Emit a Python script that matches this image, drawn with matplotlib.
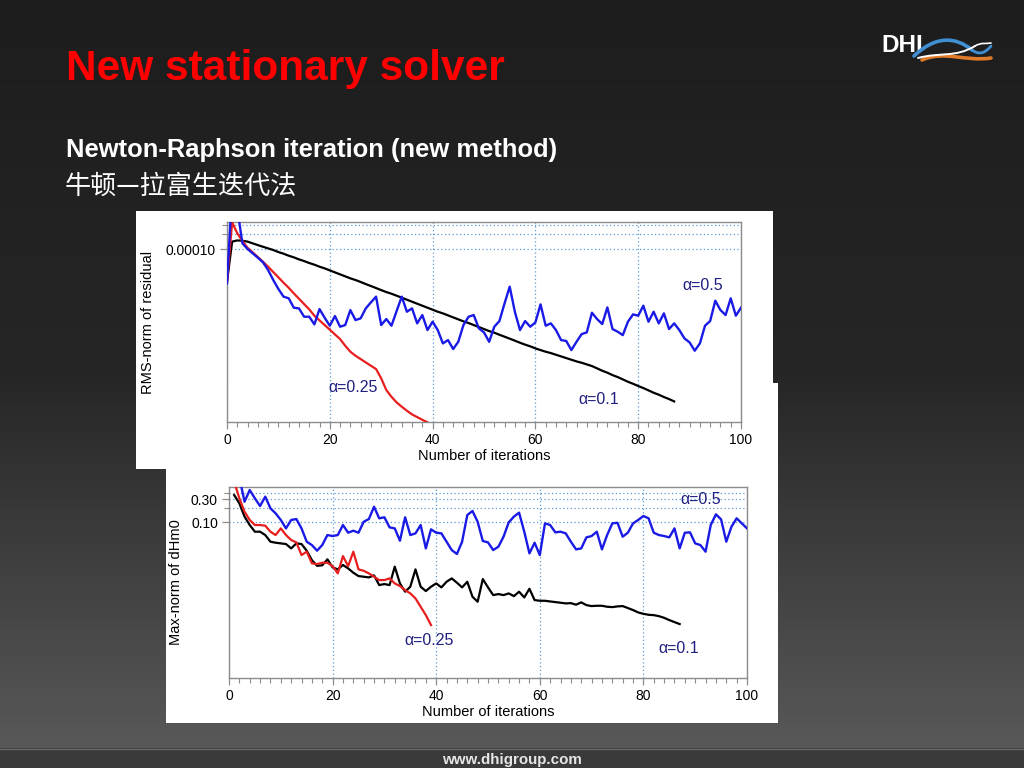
import numpy as np
import matplotlib
matplotlib.use("Agg")
import matplotlib.pyplot as plt
from matplotlib.patches import Rectangle, PathPatch
from matplotlib.path import Path
from matplotlib.colors import LinearSegmentedColormap
from matplotlib.ticker import FixedLocator, FixedFormatter, NullFormatter

# ---------------- data ----------------
title_text = "New stationary solver"
subtitle_text = "Newton-Raphson iteration (new method)"
subtitle_cn = "牛顿—拉富生迭代法"
footer_text = "www.dhigroup.com"

x_ticks = [0, 20, 40, 60, 80, 100]
x_ticklabels = ["0", "20", "40", "60", "80", "100"]
x_minor_ticks = list(range(0, 101, 2))
x_label = "Number of iterations"

# Top panel: RMS-norm of residual (values in units of 1e-6)
rms_unit = 1e-6
rms_ylabel = "RMS-norm of residual"
rms_yticks = [1e-4]
rms_yticklabels = ["0.00010"]
rms_yminor = [2e-4, 3e-4]
rms_ylim = (3.3e-8, 3.5e-4)

rms_iter_blue = list(range(0, 101))
rms_blue = [20.4, 1500, 650, 130, 100, 81.8, 66.9, 53.9, 37.8, 23.8,
            15.7, 11.0, 10.2, 6.59, 6.39, 4.34, 4.34, 3.04, 6.19, 4.14,
            2.86, 4.48, 2.73, 2.95, 5.91, 3.72, 4.02, 6.39, 8.44, 11.0,
            2.95, 3.90, 2.86, 5.65, 11.0, 5.47, 6.39, 3.19, 4.69, 2.34,
            3.44, 2.34, 1.26, 1.47, 0.97, 1.36, 2.95, 4.34, 4.69, 2.53,
            2.10, 1.36, 2.73, 3.55, 8.05, 17.5, 5.47, 2.34, 3.55, 2.73,
            3.34, 7.69, 2.86, 3.19, 2.34, 1.47, 1.41, 0.925, 1.36, 1.94,
            2.10, 5.22, 3.90, 3.09, 6.69, 2.45, 2.17, 1.85, 3.44, 4.84,
            4.55, 7.23, 3.44, 5.47, 3.19, 5.07, 2.45, 3.19, 2.34, 1.59,
            1.32, 0.897, 1.26, 2.86, 3.55, 9.12, 5.91, 4.69, 10.2, 4.55,
            6.59]

rms_iter_black = list(range(0, 88))
rms_black = [22.0, 141, 149, 147, 141, 130, 120, 111, 103, 95.5,
             87.0, 80.5, 73.4, 68.0, 61.9, 57.3, 52.3, 48.4, 44.1, 40.8,
             37.2, 33.9, 30.9, 28.2, 25.7, 23.8, 21.7, 19.7, 18.0, 16.4,
             14.9, 13.6, 12.6, 11.5, 10.5, 9.55, 8.71, 7.93, 7.23, 6.59,
             6.01, 5.47, 5.07, 4.62, 4.21, 3.84, 3.50, 3.24, 2.95, 2.69,
             2.45, 2.23, 2.07, 1.88, 1.72, 1.57, 1.43, 1.30, 1.19, 1.10,
             1.00, 0.925, 0.857, 0.805, 0.745, 0.690, 0.638, 0.591, 0.547, 0.514,
             0.476, 0.441, 0.396, 0.355, 0.324, 0.290, 0.265, 0.238, 0.213, 0.194,
             0.175, 0.159, 0.143, 0.128, 0.117, 0.105, 0.0955, 0.0857]

rms_iter_red = list(range(0, 40))
rms_red = [22.0, 344, 207, 145, 106, 85.7, 69.0, 55.6, 44.1, 34.4,
           26.9, 21.0, 16.6, 12.8, 10.0, 7.81, 6.10, 4.55, 3.66, 2.95,
           2.38, 1.91, 1.54, 1.13, 0.857, 0.711, 0.610, 0.522, 0.448, 0.384,
           0.249, 0.145, 0.106, 0.0818, 0.0670, 0.0556, 0.0469, 0.0414, 0.0366, 0.0324]

# Bottom panel: Max-norm of dHm0
max_ylabel = "Max-norm of dHm0"
max_yticks = [0.1, 0.3]
max_yticklabels = ["0.10", "0.30"]
max_yminor = [0.2, 0.4]
max_ylim = (6.5e-5, 0.53)

max_iter_blue = list(range(1, 101))
max_blue = [1.89, 0.836, 0.265, 0.460, 0.310, 0.216, 0.336, 0.194, 0.153, 0.112,
            0.0753, 0.112, 0.117, 0.0753, 0.0402, 0.0343, 0.0263, 0.0343, 0.0550, 0.0525,
            0.0550, 0.0882, 0.0614, 0.0675, 0.0614, 0.103, 0.117, 0.209, 0.121, 0.127,
            0.0790, 0.0753, 0.0421, 0.127, 0.0550, 0.0595, 0.0882, 0.0293, 0.0719, 0.0614,
            0.0595, 0.0402, 0.0271, 0.0225, 0.0402, 0.141, 0.171, 0.103, 0.0415, 0.0389,
            0.0271, 0.0317, 0.0509, 0.100, 0.131, 0.158, 0.0644, 0.0232, 0.0383, 0.0214,
            0.0954, 0.0882, 0.0624, 0.0644, 0.0595, 0.0402, 0.0280, 0.0293, 0.0493, 0.0525,
            0.0644, 0.0280, 0.0550, 0.0954, 0.098, 0.0509, 0.0614, 0.0954, 0.112, 0.135,
            0.121, 0.0614, 0.0550, 0.0525, 0.0493, 0.0753, 0.0293, 0.0614, 0.0624, 0.0371,
            0.0343, 0.0251, 0.0882, 0.146, 0.115, 0.0402, 0.0815, 0.121, 0.0954, 0.0753]

max_iter_black = list(range(1, 88))
max_black = [0.363, 0.245, 0.131, 0.0882, 0.0644, 0.0644, 0.0550, 0.0402, 0.0383, 0.0371,
             0.0360, 0.0293, 0.0371, 0.0360, 0.0263, 0.0169, 0.0129, 0.0132, 0.0175, 0.0120,
             0.0109, 0.0134, 0.0114, 0.00931, 0.00795, 0.00771, 0.00746, 0.00820, 0.00520, 0.00545,
             0.00520, 0.0124, 0.00562, 0.00380, 0.00481, 0.0109, 0.00481, 0.00392, 0.00481, 0.00562,
             0.00466, 0.00608, 0.00712, 0.00581, 0.00466, 0.00608, 0.00300, 0.00237, 0.00690, 0.00466,
             0.00324, 0.00340, 0.00324, 0.00351, 0.00309, 0.00380, 0.00290, 0.00437, 0.00256, 0.00248,
             0.00248, 0.00240, 0.00233, 0.00226, 0.00219, 0.00222, 0.00206, 0.00230, 0.00202, 0.00193,
             0.00196, 0.00196, 0.00187, 0.00184, 0.00190, 0.00193, 0.00176, 0.00160, 0.00143, 0.00134,
             0.00128, 0.00126, 0.00120, 0.00111, 0.000997, 0.000908, 0.000826]

max_iter_red = list(range(1, 40))
max_red = [0.681, 0.310, 0.165, 0.112, 0.0882, 0.0882, 0.0855, 0.0644, 0.0550, 0.0753,
           0.0550, 0.0435, 0.0389, 0.0214, 0.0251, 0.0145, 0.0140, 0.0149, 0.0149, 0.0127,
           0.00901, 0.0204, 0.0127, 0.0251, 0.0109, 0.0102, 0.00901, 0.00771, 0.00658, 0.00658,
           0.00712, 0.00562, 0.00496, 0.00410, 0.00351, 0.00277, 0.00187, 0.00126, 0.000787]

series_labels = ["α=0.5", "α=0.25", "α=0.1"]

# ---------------- styles ----------------
C_BLUE = "#1a1ae6"
C_RED = "#e81e1e"
C_BLACK = "#000000"
C_LABEL = "#1f1f80"
C_GRID = "#5b9bd5"
C_SPINE = "#8c8c8c"
SANS = ["Liberation Sans", "DejaVu Sans"]
CJK = ["Noto Sans CJK SC", "DejaVu Sans"]

W, H = 1024, 768
fig = plt.figure(figsize=(W / 100, H / 100), dpi=100)

# background / decoration axes in pixel coordinates
bg = fig.add_axes([0, 0, 1, 1], zorder=-10)
bg.set_xlim(0, W)
bg.set_ylim(H, 0)
bg.axis("off")
cmap = LinearSegmentedColormap.from_list("bg", ["#1d1d1d", "#262626", "#585858"])
grad = np.linspace(0, 1, 256)[:, None]
bg.imshow(grad, cmap=cmap, extent=(0, W, 748, 0), aspect="auto", zorder=0)
bg.add_patch(Rectangle((0, 748), W, 20, facecolor="#3a3a3a", edgecolor="none", zorder=1))
bg.plot([0, W], [748.5, 748.5], color="#6a6a6a", lw=1, zorder=2)

# white panels
bg.add_patch(Rectangle((166, 383), 612, 340, facecolor="white", edgecolor="none", zorder=3))
bg.add_patch(Rectangle((136, 211), 637, 258, facecolor="white", edgecolor="none", zorder=4))

# slide texts
bg.text(66, 80, title_text, color="#ff0000", fontsize=30.5, fontweight="bold",
        family=SANS, va="baseline", ha="left", zorder=5)
bg.text(66, 157, subtitle_text, color="white", fontsize=18.4, fontweight="bold",
        family=SANS, va="baseline", ha="left", zorder=5)
bg.text(65, 186, subtitle_cn, color="white", fontsize=18.8,
        family=CJK, va="center", ha="left", zorder=5)
bg.text(512, 760, footer_text, color="#e6e6e6", fontsize=10.9, fontweight="bold",
        family=SANS, va="center", ha="center", zorder=5)

# DHI logo
bg.text(881, 52, "DHI", color="white", fontsize=17.5, fontweight="heavy",
        family=SANS, va="baseline", ha="left", zorder=5)


def bez(p0, p1, p2, p3, color, lw):
    path = Path([p0, p1, p2, p3], [Path.MOVETO, Path.CURVE4, Path.CURVE4, Path.CURVE4])
    bg.add_patch(PathPatch(path, facecolor="none", edgecolor=color, lw=lw, zorder=6,
                           capstyle="round"))


bez((914, 56), (935, 36), (955, 36), (972, 50), "#3f8fd2", 2.6)
bez((972, 50), (980, 56), (986, 52), (991, 46), "#3f8fd2", 2.0)
bez((922, 60), (945, 50), (965, 62), (991, 58), "#e07b2a", 2.6)
bez((918, 58), (940, 52), (955, 58), (975, 46), "white", 1.4)
bez((975, 46), (982, 42), (986, 44), (991, 43), "white", 1.2)


def setup(ax, ylim, yticks, yticklabels, yminor, ylabel, ylabel_x):
    ax.set_facecolor("white")
    ax.set_xlim(0, 100)
    ax.set_yscale("log")
    ax.set_ylim(*ylim)
    ax.xaxis.set_major_locator(FixedLocator(x_ticks))
    ax.xaxis.set_major_formatter(FixedFormatter(x_ticklabels))
    ax.xaxis.set_minor_locator(FixedLocator(x_minor_ticks))
    ax.yaxis.set_major_locator(FixedLocator(yticks))
    ax.yaxis.set_major_formatter(FixedFormatter(yticklabels))
    ax.yaxis.set_minor_locator(FixedLocator(yminor))
    ax.yaxis.set_minor_formatter(NullFormatter())
    for s in ax.spines.values():
        s.set_color(C_SPINE)
        s.set_linewidth(1.0)
    ax.tick_params(axis="both", which="major", direction="out", length=5, width=0.9,
                   color=C_SPINE, labelsize=10, pad=3)
    ax.tick_params(axis="both", which="minor", direction="out", length=3.5, width=0.8,
                   color=C_SPINE)
    for lab in ax.get_xticklabels() + ax.get_yticklabels():
        lab.set_family(SANS)
    ax.xaxis.grid(True, which="major", linestyle=(0, (1, 2)), color=C_GRID, lw=0.9)
    ax.yaxis.grid(True, which="both", linestyle=(0, (1, 2)), color=C_GRID, lw=0.9)
    ax.set_axisbelow(True)
    ax.set_xlabel(x_label, family=SANS, fontsize=10.5, labelpad=1)
    ax.set_ylabel(ylabel, family=SANS, fontsize=10.5)
    ax.yaxis.set_label_coords(ylabel_x, 0.5)


# ---- top chart ----
ax1 = fig.add_axes([227 / W, 1 - 422 / H, 514 / W, 200 / H], zorder=1)
setup(ax1, rms_ylim, rms_yticks, rms_yticklabels, rms_yminor, rms_ylabel, -0.140)
ax1.plot(rms_iter_black, np.array(rms_black) * rms_unit, color=C_BLACK, lw=1.6, zorder=3)
ax1.plot(rms_iter_red, np.array(rms_red) * rms_unit, color=C_RED, lw=1.6, zorder=4)
ax1.plot(rms_iter_blue, np.array(rms_blue) * rms_unit, color=C_BLUE, lw=1.7, zorder=5)
ax1.text(0.926, 0.685, series_labels[0], transform=ax1.transAxes, color=C_LABEL,
         fontsize=11.5, family=SANS, ha="center", va="center")
ax1.text(0.245, 0.17, series_labels[1], transform=ax1.transAxes, color=C_LABEL,
         fontsize=11.5, family=SANS, ha="center", va="center")
ax1.text(0.724, 0.115, series_labels[2], transform=ax1.transAxes, color=C_LABEL,
         fontsize=11.5, family=SANS, ha="center", va="center")

# ---- bottom chart ----
ax2 = fig.add_axes([229 / W, 1 - 678 / H, 518 / W, 191 / H], zorder=1)
setup(ax2, max_ylim, max_yticks, max_yticklabels, max_yminor, max_ylabel, -0.088)
ax2.plot(max_iter_black, max_black, color=C_BLACK, lw=1.6, zorder=3)
ax2.plot(max_iter_red, max_red, color=C_RED, lw=1.6, zorder=4)
ax2.plot(max_iter_blue, max_blue, color=C_BLUE, lw=1.7, zorder=5)
ax2.text(0.911, 0.937, series_labels[0], transform=ax2.transAxes, color=C_LABEL,
         fontsize=11.5, family=SANS, ha="center", va="center")
ax2.text(0.386, 0.194, series_labels[1], transform=ax2.transAxes, color=C_LABEL,
         fontsize=11.5, family=SANS, ha="center", va="center")
ax2.text(0.869, 0.152, series_labels[2], transform=ax2.transAxes, color=C_LABEL,
         fontsize=11.5, family=SANS, ha="center", va="center")

fig.savefig("out.png", dpi=100)
